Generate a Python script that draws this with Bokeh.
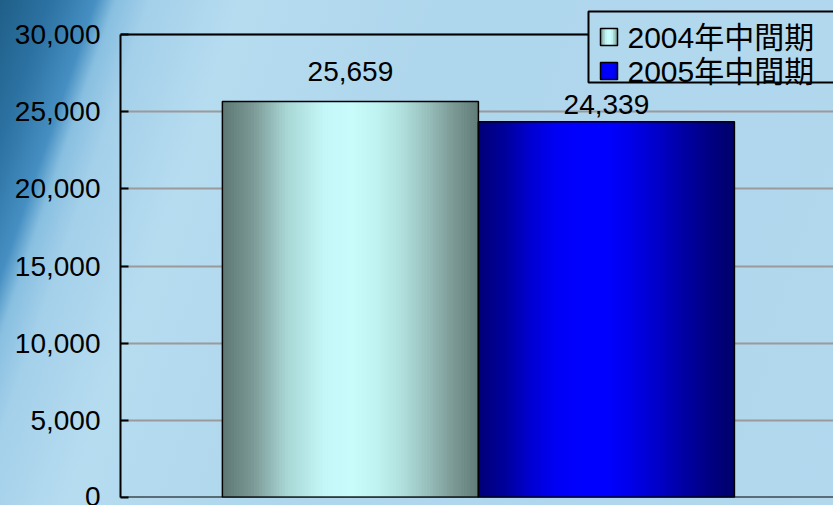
from bokeh.plotting import figure
from bokeh.models import (Range1d, FixedTicker, NumeralTickFormatter, Span, BoxAnnotation,
                          Label, ColumnDataSource, LabelSet, GlobalInlineStyleSheet)
from bokeh.core.properties import value
from bokeh.embed import file_html
from bokeh.resources import INLINE

# ---- data ----
categories = ["2004年中間期", "2005年中間期"]
values = [25659, 24339]
value_labels = ["25,659", "24,339"]
y_ticks = [0, 5000, 10000, 15000, 20000, 25000, 30000]

# ---- styles ----
label_offsets = [20, 8]
gradients = [
    [(0.0, "#5e7874"), (0.12, "#7c9996"), (0.25, "#a8d6d4"), (0.4, "#c4f8f8"),
     (0.5, "#c8fcfc"), (0.6, "#c0f4f2"), (0.7, "#b0e0de"), (0.8, "#98c0bc"),
     (0.9, "#7c9a96"), (1.0, "#627c78")],
    [(0.0, "#000078"), (0.1, "#00009a"), (0.2, "#0000d0"), (0.3, "#0000f4"),
     (0.4, "#0000ff"), (0.5, "#0000ff"), (0.6, "#0000e8"), (0.7, "#0000c8"),
     (0.8, "#0000a4"), (0.9, "#000084"), (1.0, "#00006a")],
]
icon_gradients = [
    [(0.0, "#7a9894"), (0.35, "#c8fcfc"), (0.65, "#c8fcfc"), (1.0, "#7a9894")],
    [(0.0, "#0000e0"), (0.3, "#0000ff"), (0.7, "#0000ff"), (1.0, "#0000d0")],
]
FONT = "'Liberation Sans', 'Noto Sans CJK TC', sans-serif"


def hex2rgb(h):
    h = h.lstrip("#")
    return tuple(int(h[i:i + 2], 16) for i in (0, 2, 4))


def interp(stops, t):
    for (t0, c0), (t1, c1) in zip(stops, stops[1:]):
        if t0 <= t <= t1:
            f = 0 if t1 == t0 else (t - t0) / (t1 - t0)
            a, b = hex2rgb(c0), hex2rgb(c1)
            return "#%02x%02x%02x" % tuple(round(a[k] + (b[k] - a[k]) * f) for k in range(3))
    return stops[-1][1]


css = """
html, body { margin: 0; padding: 0; overflow: hidden; }
html { background: linear-gradient(109deg, #1f5f88 0%, #2c72a2 5%, #468fc2 9.5%,
        #88bfe0 11.5%, #a4d0ea 15%, #b6dcf0 24%, #aed6ec 45%, #b2d8ee 100%); }
"""

y_top = y_ticks[-1] * 497 / 463   # frame reaches the top of the page; 30,000 sits 34px below

p = figure(width=833, height=505, output_backend="svg", toolbar_location=None,
           x_range=Range1d(-0.898, 1.887), y_range=Range1d(0, y_top),
           x_axis_location=None, min_border_left=120, min_border_right=0,
           min_border_top=0, min_border_bottom=8,
           background_fill_color=None, border_fill_color=None,
           outline_line_color=None)
p.stylesheets = [GlobalInlineStyleSheet(css=css)]

p.xgrid.visible = False
p.ygrid.grid_line_color = "#9a9a9a"
p.ygrid.grid_line_width = 2

ax = p.yaxis[0]
ax.ticker = FixedTicker(ticks=y_ticks)
ax.bounds = (y_ticks[0], y_ticks[-1])
ax.formatter = NumeralTickFormatter(format="0,0")
ax.axis_line_color = "black"
ax.axis_line_width = 2
ax.major_tick_in = 8
ax.major_tick_out = 0
ax.major_tick_line_width = 2
ax.minor_tick_line_color = None
ax.major_label_standoff = 20
ax.major_label_text_font = FONT
ax.major_label_text_font_size = "28px"
ax.major_label_text_color = "black"

xs = list(range(len(values)))

N = 90
for i, (v, stops) in enumerate(zip(values, gradients)):
    lefts = [i - 0.5 + k / N for k in range(N)]
    rights = [min(i + 0.5, i - 0.5 + (k + 2) / N) for k in range(N)]
    cols = [interp(stops, (k + 0.5) / N) for k in range(N)]
    src = ColumnDataSource(dict(left=lefts, right=rights, top=[v] * N, bottom=[0] * N, c=cols))
    p.quad(left="left", right="right", top="top", bottom="bottom", source=src,
           fill_color="c", line_color=None)

p.quad(left=[x - 0.5 for x in xs], right=[x + 0.5 for x in xs], top=values,
       bottom=[0] * len(values), fill_alpha=0, line_color="black", line_width=1.5)

p.add_layout(Span(location=y_ticks[-1], dimension="width", line_color="black", line_width=2))
p.add_layout(Span(location=0, dimension="width", line_color="black", line_width=2))

lab_src = ColumnDataSource(dict(x=xs, y=values, t=value_labels, off=label_offsets))
p.add_layout(LabelSet(x="x", y="y", text="t", y_offset="off", source=lab_src,
                      text_align="center", text_baseline="alphabetic",
                      text_font=value(FONT), text_font_size=value("28px"),
                      text_color="black"))

# ---- legend, drawn by hand (screen units: from the frame's bottom-left, y up) ----
p.add_layout(BoxAnnotation(left=468, right=900, bottom=415, top=486,
                           left_units="screen", right_units="screen",
                           bottom_units="screen", top_units="screen",
                           fill_color="#b2d8ee", fill_alpha=1.0,
                           line_color="black", line_width=2, line_alpha=1.0))
row_bottoms = [452, 418]   # bottoms of the legend squares
for i, (name, stops) in enumerate(zip(categories, icon_gradients)):
    b = row_bottoms[i]
    M = 8
    for k in range(M):
        p.add_layout(BoxAnnotation(left=480 + 17 * k / M, right=min(497, 480 + 17 * (k + 2) / M),
                                   bottom=b, top=b + 17,
                                   left_units="screen", right_units="screen",
                                   bottom_units="screen", top_units="screen",
                                   fill_color=interp(stops, (k + 0.5) / M), fill_alpha=1.0,
                                   line_color=None))
    p.add_layout(BoxAnnotation(left=480, right=497, bottom=b, top=b + 17,
                               left_units="screen", right_units="screen",
                               bottom_units="screen", top_units="screen",
                               fill_alpha=0, line_color="black", line_width=1.5, line_alpha=1.0))
    p.add_layout(Label(x=507, y=b + 8, x_units="screen", y_units="screen", text=name,
                       text_font=FONT, text_font_size="30px", text_color="black",
                       text_baseline="alphabetic", text_align="left"))

open("out.html", "w").write(file_html(p, INLINE))
